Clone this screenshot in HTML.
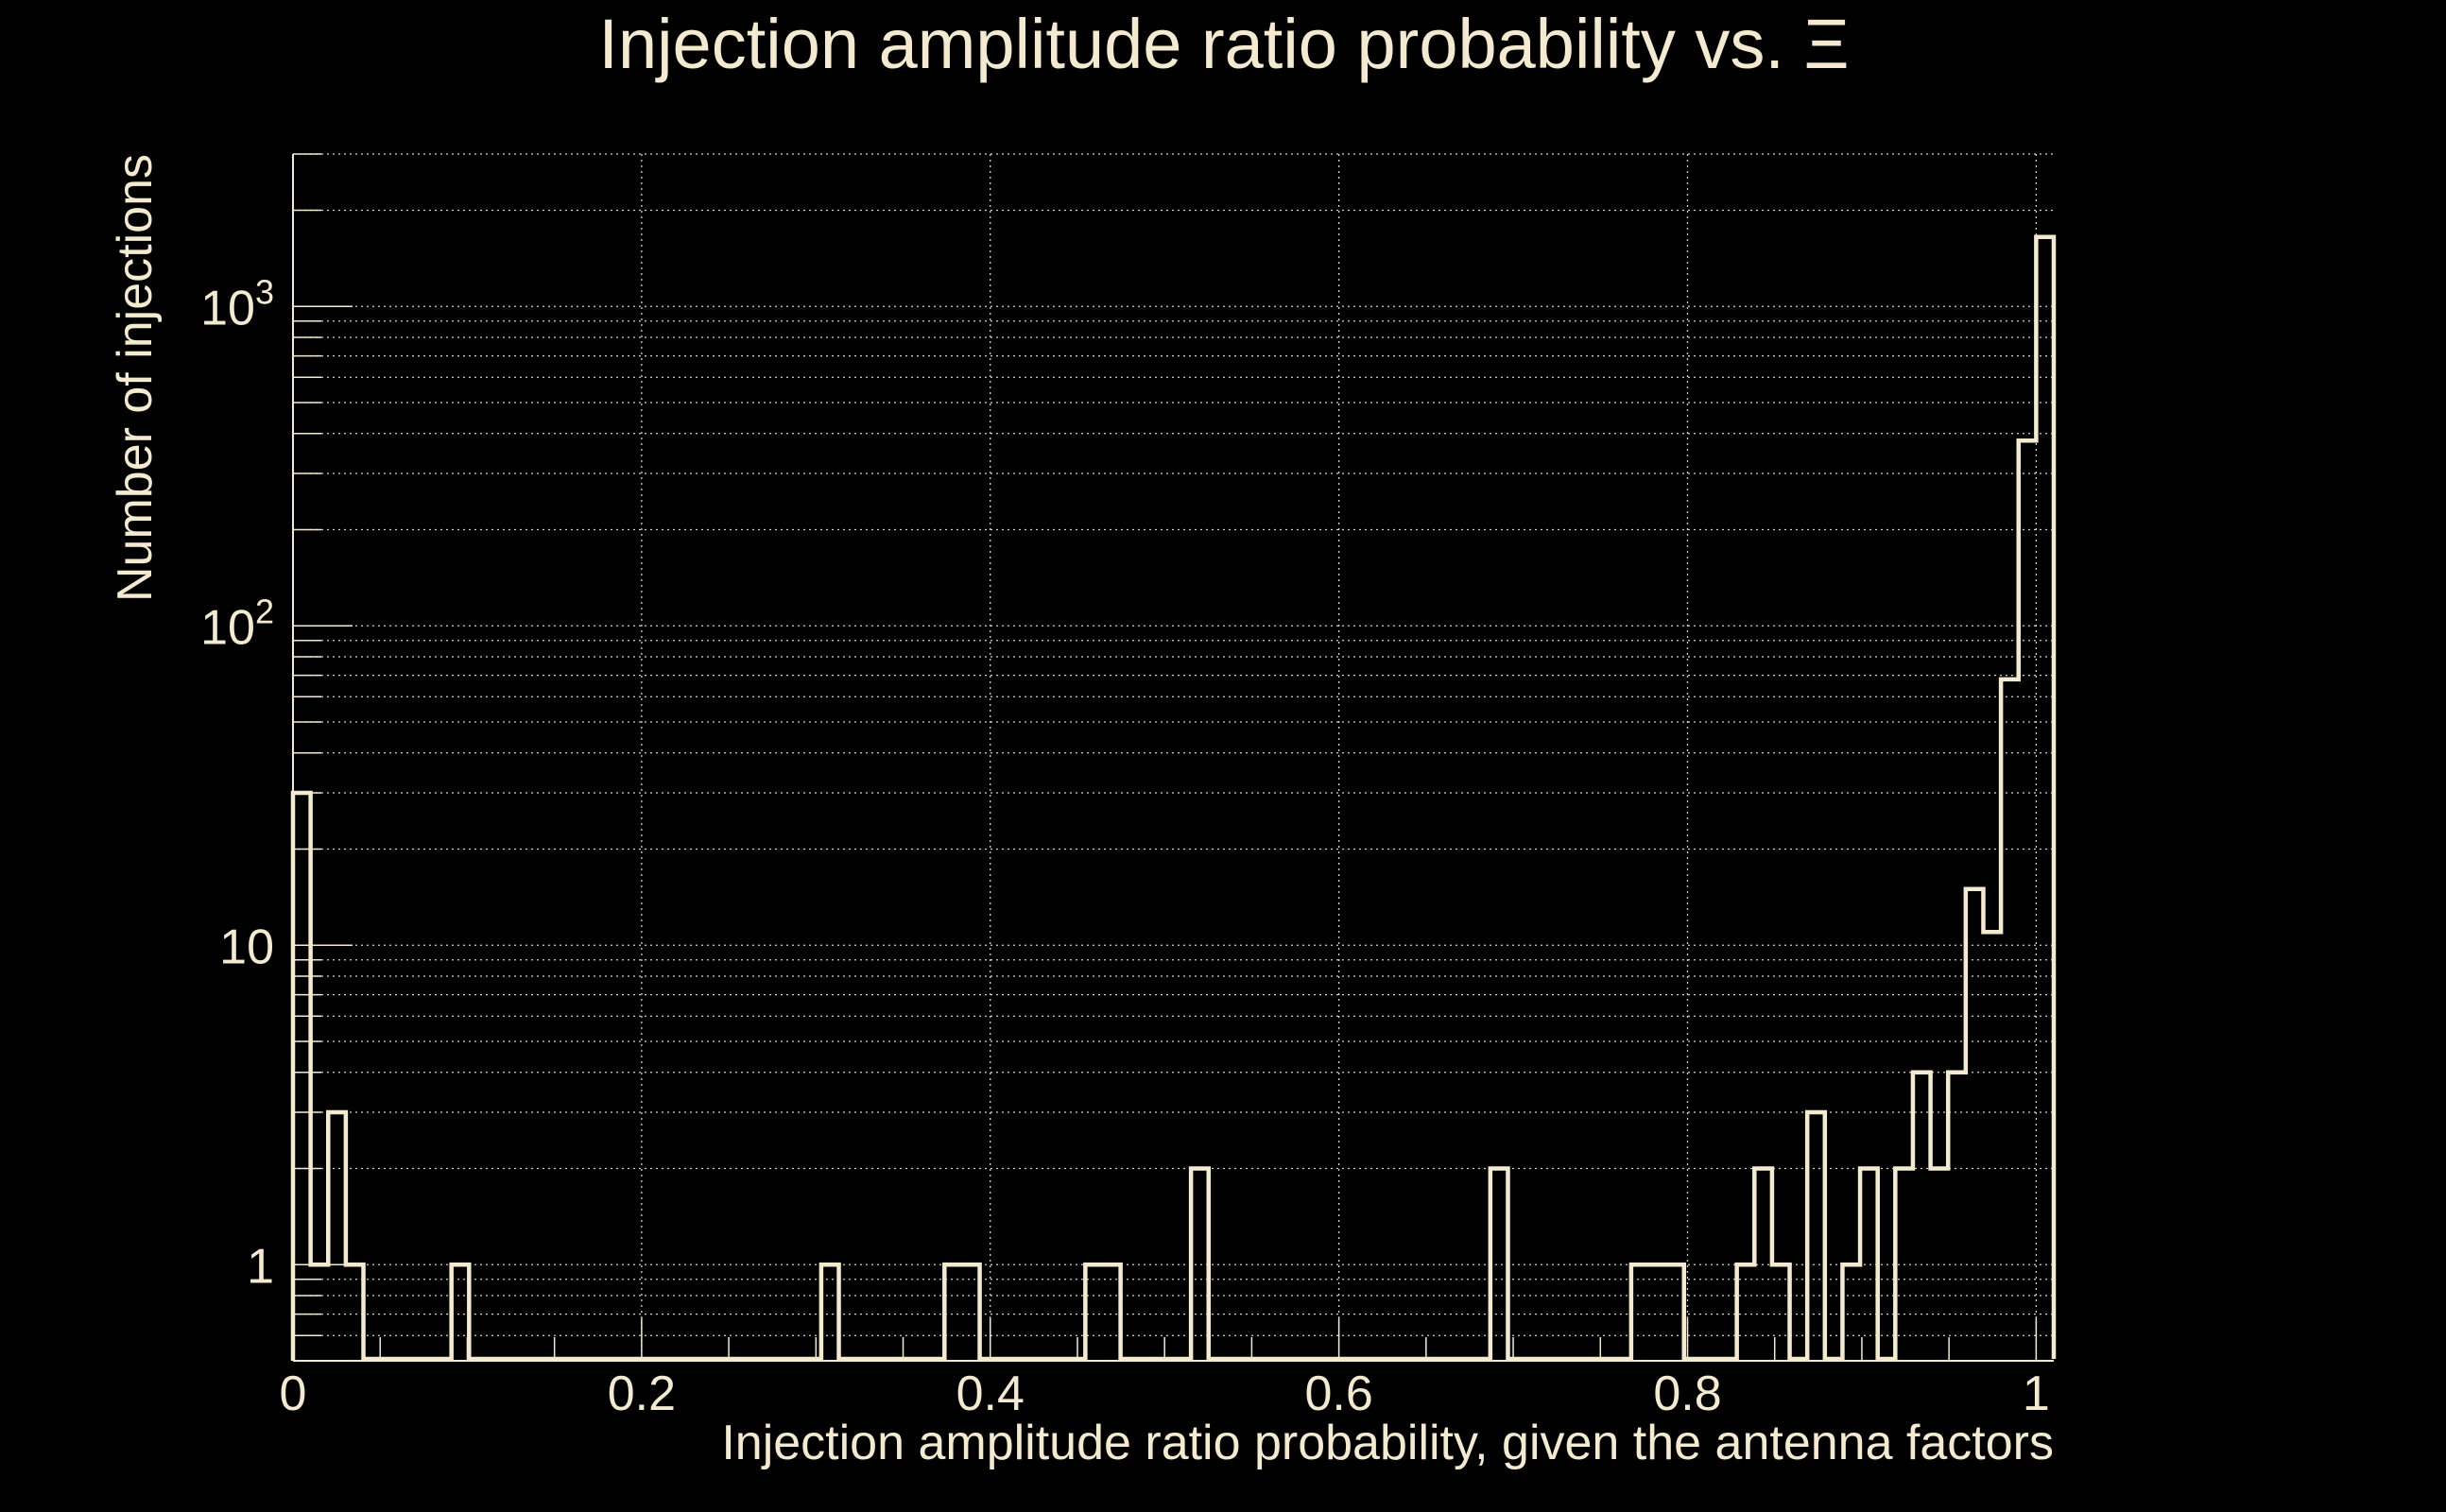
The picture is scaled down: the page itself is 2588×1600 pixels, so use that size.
<!DOCTYPE html>
<html><head><meta charset="utf-8">
<style>
html,body{margin:0;padding:0;background:#000;}
svg{display:block;}
text{font-family:"Liberation Sans",sans-serif;fill:#f3ead0;}
</style></head>
<body>
<svg id="chart" width="2588" height="1600" viewBox="0 0 2588 1600" xmlns="http://www.w3.org/2000/svg">
<rect width="2588" height="1600" fill="#000"/>
<text x="1295" y="72" font-size="74" text-anchor="middle">Injection amplitude ratio probability vs.  Ξ</text>
<g id="grid"></g>
<g id="axes"></g>
<path id="hist" fill="none" stroke="#f3ead0" stroke-width="4.5" stroke-linejoin="miter"/>
<text transform="translate(160,163) rotate(-90)" font-size="52" text-anchor="end">Number of injections</text>
<text x="2173" y="1544" font-size="52" text-anchor="end">Injection amplitude ratio probability, given the antenna factors</text>
</svg>
<script>
// data
const binCount = 100;
const binWidth = 1/99;
const counts = [30,1,3,1,0,0,0,0,0,1, 0,0,0,0,0,0,0,0,0,0, 0,0,0,0,0,0,0,0,0,0, 1,0,0,0,0,0,0,1,1,0, 0,0,0,0,0,1,1,0,0,0, 0,2,0,0,0,0,0,0,0,0, 0,0,0,0,0,0,0,0,2,0, 0,0,0,0,0,0,1,1,1,0, 0,0,1,2,1,0,3,0,1,2, 0,2,4,2,4,15,11,68,380,1650];
const xTicks = [0,0.2,0.4,0.6,0.8,1];
const xTickLabels = ["0","0.2","0.4","0.6","0.8","1"];
const yTicks = [1,10,100,1000];
const yTickLabels = ["1","10","10^2","10^3"];
const xMin = 0, xMax = 100/99, yMin = 0.5, yMax = 3000;

const L=310, R=2173, T=163, B=1440;
const NS="http://www.w3.org/2000/svg";
const col="#f3ead0";
function xs(v){return L+(v-xMin)/(xMax-xMin)*(R-L);}
function ys(v){return B-(Math.log10(v)-Math.log10(yMin))/(Math.log10(yMax)-Math.log10(yMin))*(B-T);}
function mk(tag,parent){const e=document.createElementNS(NS,tag);parent.appendChild(e);return e;}
const grid=document.getElementById('grid'), axes=document.getElementById('axes');

for(let d=-1; d<=3; d++){
  for(let m=1;m<=9;m++){
    const v=m*Math.pow(10,d);
    if(v<yMin||v>yMax) continue;
    const y=ys(v);
    const ln=mk('line',grid);
    
    
    ln.setAttribute('x1',L);ln.setAttribute('x2',R);ln.setAttribute('y1',y);ln.setAttribute('y2',y);
    ln.setAttribute('stroke','#d8d2c0');ln.setAttribute('stroke-width','1.3');ln.setAttribute('stroke-dasharray','2 4');
    const tk=mk('line',axes);
    
    
    const len = (m===1)?63:30;
    tk.setAttribute('x1',L);tk.setAttribute('x2',L+len);tk.setAttribute('y1',y);tk.setAttribute('y2',y);
    tk.setAttribute('stroke',col);tk.setAttribute('stroke-width','1.5');
  }
}
xTicks.forEach((v,i)=>{
  const x=xs(v);
  const ln=mk('line',grid);
  
  
  ln.setAttribute('x1',x);ln.setAttribute('x2',x);ln.setAttribute('y1',T);ln.setAttribute('y2',B);
  ln.setAttribute('stroke','#d8d2c0');ln.setAttribute('stroke-width','1.3');ln.setAttribute('stroke-dasharray','2 4');
  const t=mk('text',axes);
  
  
  t.setAttribute('x',x);t.setAttribute('y',1492);t.setAttribute('font-size','52');t.setAttribute('text-anchor','middle');
  t.textContent=xTickLabels[i];
});
for(let k=0;k<=20;k++){
  const v=k*0.05; const x=xs(v);
  const tk=mk('line',axes);
  
  
  const len=(k%4===0)?45:25;
  tk.setAttribute('x1',x);tk.setAttribute('x2',x);tk.setAttribute('y1',B);tk.setAttribute('y2',B-len);
  tk.setAttribute('stroke',col);tk.setAttribute('stroke-width','1.5');
}
yTicks.forEach((v,i)=>{
  const y=ys(v);
  const t=mk('text',axes);
  
  
  t.setAttribute('font-size','52');t.setAttribute('text-anchor','end');
  const lab=yTickLabels[i];
  t.setAttribute('x',290);t.setAttribute('y',y+19);
  if(lab.indexOf('^')>=0){
    const p=lab.split('^');
    const a=mk('tspan',t);a.textContent=p[0];
    const b=mk('tspan',t);b.setAttribute('font-size','36');b.setAttribute('dy','-22');b.textContent=p[1];
  } else {
    t.textContent=lab;
  }
});
const ax1=mk('line',axes);


ax1.setAttribute('x1',L);ax1.setAttribute('x2',R);ax1.setAttribute('y1',B);ax1.setAttribute('y2',B);ax1.setAttribute('stroke',col);ax1.setAttribute('stroke-width','2');
const ax2=mk('line',axes);


ax2.setAttribute('x1',L);ax2.setAttribute('x2',L);ax2.setAttribute('y1',T);ax2.setAttribute('y2',B);ax2.setAttribute('stroke',col);ax2.setAttribute('stroke-width','2');

let d='M'+xs(0)+','+B;
for(let k=0;k<binCount;k++){
  const v=counts[k];
  const y = v>0 ? ys(v) : B-2;
  d+=' L'+xs(k*binWidth)+','+y+' L'+xs((k+1)*binWidth)+','+y;
}
d+=' L'+xs(binCount*binWidth)+','+(B-2);
document.getElementById('hist').setAttribute('d',d);
</script>
</body></html>
